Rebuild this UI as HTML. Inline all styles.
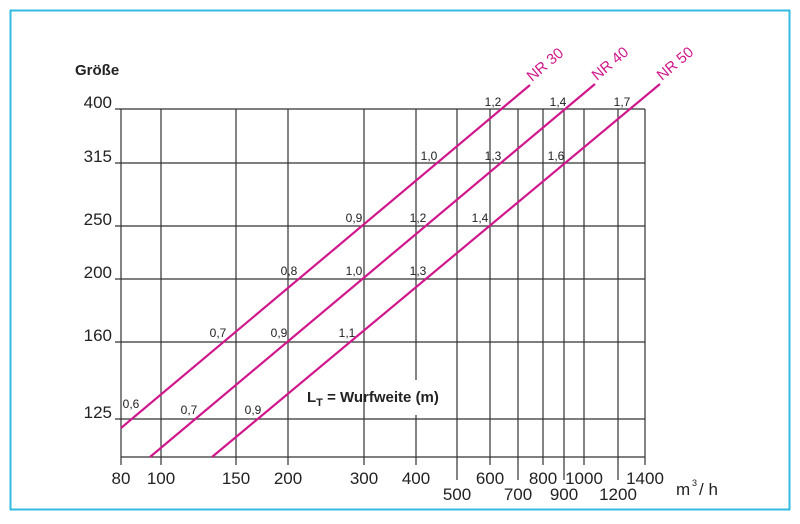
<!DOCTYPE html>
<html><head><meta charset="utf-8"><style>
body{margin:0;background:#fff}
svg text{font-family:"Liberation Sans",sans-serif;fill:#222}
</style></head><body>
<svg width="800" height="519" viewBox="0 0 800 519" xmlns="http://www.w3.org/2000/svg">
<rect x="10.5" y="10.5" width="779" height="499" fill="#fff" stroke="#33bbdd" stroke-width="2"/>
<g stroke="#333" stroke-width="1.2" fill="none">
<line x1="115" y1="109" x2="645" y2="109"/>
<line x1="115" y1="163" x2="645" y2="163"/>
<line x1="115" y1="226" x2="645" y2="226"/>
<line x1="115" y1="279" x2="645" y2="279"/>
<line x1="115" y1="342" x2="645" y2="342"/>
<line x1="115" y1="419" x2="645" y2="419"/>
<line x1="121" y1="457" x2="645" y2="457"/>
<line x1="121" y1="109" x2="121" y2="465"/>
<line x1="161" y1="109" x2="161" y2="465"/>
<line x1="236" y1="109" x2="236" y2="465"/>
<line x1="288" y1="109" x2="288" y2="465"/>
<line x1="364" y1="109" x2="364" y2="465"/>
<line x1="416" y1="109" x2="416" y2="380"/>
<line x1="416" y1="415" x2="416" y2="465"/>
<line x1="457" y1="109" x2="457" y2="480"/>
<line x1="490" y1="109" x2="490" y2="465"/>
<line x1="518" y1="109" x2="518" y2="480"/>
<line x1="543" y1="109" x2="543" y2="465"/>
<line x1="564" y1="109" x2="564" y2="480"/>
<line x1="584" y1="109" x2="584" y2="465"/>
<line x1="618" y1="109" x2="618" y2="480"/>
<line x1="645" y1="109" x2="645" y2="465"/>
</g>
<g stroke="#d0188c" stroke-width="2.2">
<line x1="121" y1="428" x2="530" y2="85"/>
<line x1="150" y1="457" x2="595" y2="84"/>
<line x1="212" y1="457" x2="660" y2="84"/>
</g>
<g font-size="15">
<text x="532" y="82" transform="rotate(-40 532 82)" style="fill:#d0188c">NR 30</text>
<text x="597" y="81" transform="rotate(-40 597 81)" style="fill:#d0188c">NR 40</text>
<text x="662" y="81" transform="rotate(-40 662 81)" style="fill:#d0188c">NR 50</text>
</g>
<text x="75" y="75" font-size="15" font-weight="bold">Größe</text>
<g font-size="17" text-anchor="end">
<text x="112" y="108">400</text><text x="112" y="162">315</text><text x="112" y="225">250</text>
<text x="112" y="278">200</text><text x="112" y="341">160</text><text x="112" y="418">125</text>
</g>
<g font-size="17" text-anchor="middle">
<text x="121" y="484">80</text><text x="161" y="484">100</text><text x="236" y="484">150</text>
<text x="288" y="484">200</text><text x="364" y="484">300</text><text x="416" y="484">400</text>
<text x="490" y="484">600</text><text x="543" y="484">800</text><text x="584" y="484">1000</text>
<text x="645" y="484">1400</text>
<text x="457" y="500">500</text><text x="518" y="500">700</text><text x="564" y="500">900</text><text x="618" y="500">1200</text>
</g>
<text x="676" y="495" font-size="17">m</text><text x="692" y="486" font-size="9">3</text><text x="699" y="495" font-size="17">/ h</text>
<g font-size="12" text-anchor="middle">
<text x="131" y="408">0,6</text><text x="189" y="414">0,7</text><text x="253" y="414">0,9</text>
<text x="218" y="337">0,7</text><text x="279" y="337">0,9</text><text x="347" y="337">1,1</text>
<text x="289" y="275">0,8</text><text x="354" y="275">1,0</text><text x="418" y="275">1,3</text>
<text x="354" y="222">0,9</text><text x="418" y="222">1,2</text><text x="480" y="222">1,4</text>
<text x="429" y="160">1,0</text><text x="493" y="160">1,3</text><text x="556" y="160">1,6</text>
<text x="493" y="106">1,2</text><text x="558" y="106">1,4</text><text x="622" y="106">1,7</text>
</g>
<text x="307" y="402" font-size="15" font-weight="bold">L<tspan font-size="11" dy="4">T</tspan><tspan dy="-4"> = Wurfweite (m)</tspan></text>
</svg>
</body></html>
